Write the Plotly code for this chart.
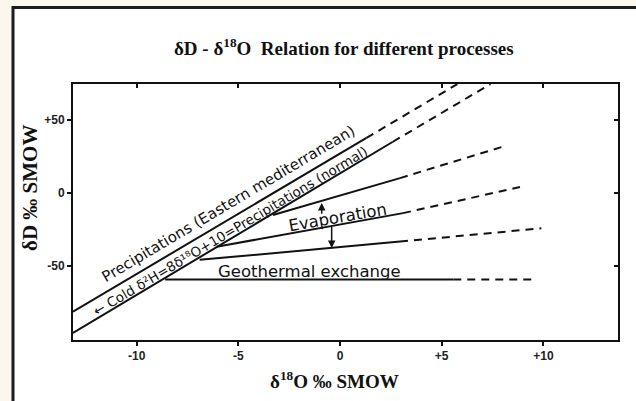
import plotly.graph_objects as go

# ---------------- data ----------------
X_TICKS = [-10, -5, 0, 5, 10]
X_TICK_LABELS = ["<b>-10</b>", "<b>-5</b>", "<b>0</b>", "<b>+5</b>", "<b>+10</b>"]
Y_TICKS = [-50, 0, 50]
Y_TICK_LABELS = ["<b>-50</b>", "<b>0</b>", "<b>+50</b>"]
X_RANGE = [-13.13, 13.67]
Y_RANGE = [-100.9, 74.45]

# Precipitation (Eastern Mediterranean)
EM_SOLID_X = [-13.13, 1.3]
EM_SOLID_Y = [-81.5, 37.5]
EM_DASH_X = [1.3, 5.77]
EM_DASH_Y = [37.5, 74.4]
# Precipitation (normal)
N_SOLID_X = [-13.13, 2.6]
N_SOLID_Y = [-96.1, 34.9]
N_DASH_X = [2.6, 7.4]
N_DASH_Y = [34.9, 74.4]
# Evaporation lines
E1_SOLID_X = [-3.3, 2.95]
E1_SOLID_Y = [-15.3, 10.0]
E1_DASH_X = [2.95, 8.0]
E1_DASH_Y = [10.0, 31.5]
E2_SOLID_X = [-6.07, 3.1]
E2_SOLID_Y = [-37.0, -14.0]
E2_DASH_X = [3.1, 8.85]
E2_DASH_Y = [-14.0, 3.9]
E3_SOLID_X = [-6.9, 2.95]
E3_SOLID_Y = [-46.0, -33.5]
E3_DASH_X = [2.95, 9.9]
E3_DASH_Y = [-33.5, -24.4]
# Geothermal exchange
G_SOLID_X = [-8.6, 5.57]
G_SOLID_Y = [-59.5, -59.5]
G_DASH_X = [5.57, 9.43]
G_DASH_Y = [-59.5, -59.5]

# Evaporation arrows (x, tail y, head y)
ARROW_X = [-0.9, -0.41]
ARROW_TAIL_Y = [-15.5, -22.5]
ARROW_HEAD_Y = [-7.0, -37.9]

# In-plot labels
LABELS = [
    "Precipitations (Eastern mediterranean)",
    "\u2190 Cold \u03b4\u00b2H=8\u03b4\u00b9\u2078O+10=Precipitations (normal)",
    "Evaporation",
    "Geothermal exchange",
]
LABEL_X = [-5.5, -5.4, -0.1, -1.48]
LABEL_Y = [-7.8, -26.3, -17.0, -54.0]
LABEL_ANGLE = [-30.7, -30.8, -10, 0]
LABEL_SIZE = [15, 13.5, 16.5, 16.5]

# ---------------- figure ----------------
fig = go.Figure()

SOLID = [(EM_SOLID_X, EM_SOLID_Y), (N_SOLID_X, N_SOLID_Y), (E1_SOLID_X, E1_SOLID_Y),
         (E2_SOLID_X, E2_SOLID_Y), (E3_SOLID_X, E3_SOLID_Y), (G_SOLID_X, G_SOLID_Y)]
DASHED = [(EM_DASH_X, EM_DASH_Y), (N_DASH_X, N_DASH_Y), (E1_DASH_X, E1_DASH_Y),
          (E2_DASH_X, E2_DASH_Y), (E3_DASH_X, E3_DASH_Y), (G_DASH_X, G_DASH_Y)]

for xs, ys in SOLID:
    fig.add_trace(go.Scatter(x=xs, y=ys, mode="lines",
                             line=dict(color="#111", width=2),
                             showlegend=False, hoverinfo="skip"))
for xs, ys in DASHED:
    fig.add_trace(go.Scatter(x=xs, y=ys, mode="lines",
                             line=dict(color="#111", width=2, dash="8px,6px"),
                             showlegend=False, hoverinfo="skip"))

# invisible trace for the mirrored (inside-tick) axes
fig.add_trace(go.Scatter(x=[None], y=[None], xaxis="x2", yaxis="y2",
                         showlegend=False, hoverinfo="skip"))

annotations = []
for txt, lx, ly, ang, sz in zip(LABELS, LABEL_X, LABEL_Y, LABEL_ANGLE, LABEL_SIZE):
    annotations.append(dict(x=lx, y=ly, xref="x", yref="y", text=txt,
                            showarrow=False, textangle=ang,
                            xanchor="center", yanchor="middle",
                            font=dict(family="DejaVu Sans", size=sz, color="#111")))
for ax_, ty, hy in zip(ARROW_X, ARROW_TAIL_Y, ARROW_HEAD_Y):
    annotations.append(dict(x=ax_, y=hy, ax=ax_, ay=ty, xref="x", yref="y",
                            axref="x", ayref="y", text="", showarrow=True,
                            arrowhead=2, arrowsize=1, arrowwidth=1.5,
                            arrowcolor="#111"))

# titles
annotations.append(dict(x=(344 - 73) / 545, y=(340 - 47) / 256, xref="paper", yref="paper",
                        text="<b>\u03b4D - \u03b4<sup>18</sup>O  Relation for different processes</b>",
                        showarrow=False, xanchor="center", yanchor="middle",
                        font=dict(family="Liberation Serif", size=19, color="#111")))
annotations.append(dict(x=(334 - 73) / 545, y=(340 - 380) / 256, xref="paper", yref="paper",
                        text="<b>\u03b4<sup>18</sup>O \u2030 SMOW</b>",
                        showarrow=False, xanchor="center", yanchor="middle",
                        font=dict(family="Liberation Serif", size=19, color="#111")))
annotations.append(dict(x=(30 - 73) / 545, y=(340 - 188) / 256, xref="paper", yref="paper",
                        text="<b>\u03b4D \u2030 SMOW</b>", textangle=-90,
                        showarrow=False, xanchor="center", yanchor="middle",
                        font=dict(family="Liberation Serif", size=21, color="#111")))

axis_common = dict(showgrid=False, zeroline=False, showline=True, linewidth=2,
                   linecolor="#111", mirror=True, ticks="outside", ticklen=4,
                   tickwidth=1.5, tickcolor="#111",
                   tickfont=dict(family="Liberation Sans", size=12, color="#222"))

fig.update_layout(
    width=636, height=401,
    margin=dict(l=73, r=18, t=84, b=61),
    paper_bgcolor="#FCF7EE",
    plot_bgcolor="rgba(0,0,0,0)",
    showlegend=False,
    xaxis=dict(range=X_RANGE, tickvals=X_TICKS, ticktext=X_TICK_LABELS, **axis_common),
    yaxis=dict(range=Y_RANGE, tickvals=Y_TICKS, ticktext=Y_TICK_LABELS, **axis_common),
    xaxis2=dict(range=X_RANGE, tickvals=X_TICKS, overlaying="x", side="top", anchor="y2",
                ticks="inside", ticklen=4, tickwidth=1.5, tickcolor="#111",
                showticklabels=False, showline=False, showgrid=False, zeroline=False),
    yaxis2=dict(range=Y_RANGE, tickvals=Y_TICKS, overlaying="y", side="right", anchor="x2",
                ticks="inside", ticklen=4, tickwidth=1.5, tickcolor="#111",
                showticklabels=False, showline=False, showgrid=False, zeroline=False),
    annotations=annotations,
    shapes=[dict(type="rect", xref="paper", yref="paper", layer="below",
                 x0=(13 - 73) / 545, x1=(650 - 73) / 545,
                 y0=(340 - 420) / 256, y1=(340 - 7.5) / 256,
                 line=dict(color="#1c1c1c", width=3), fillcolor="white")],
)

fig.write_html("out.html")
